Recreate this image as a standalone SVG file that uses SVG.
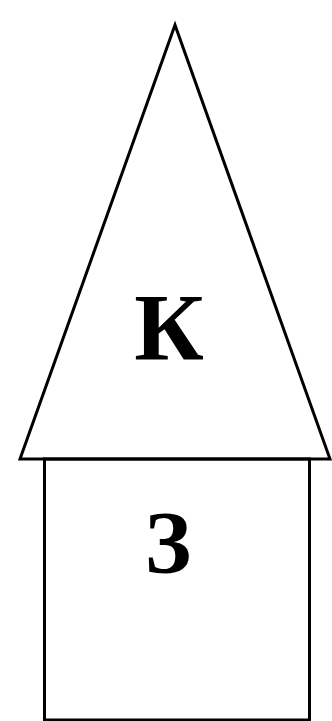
<svg xmlns="http://www.w3.org/2000/svg" width="332" height="721" viewBox="0 0 332 721">
<style>
.s{fill:none;stroke:#000;stroke-width:3;stroke-linejoin:miter}
.t{font-family:"Liberation Serif","DejaVu Serif",serif;font-weight:bold;fill:#000;text-anchor:middle}
</style>
<rect width="332" height="721" fill="#fff"/>
<g id="roof">
<polygon class="s" points="175,25 20,459 330,459"/>
<text class="t" x="169" y="360" font-size="96">К</text>
</g>
<g id="wall">
<rect class="s" x="44.5" y="459" width="265" height="261"/>
<text class="t" x="168" y="572" font-size="88">З</text>
</g>
</svg>
